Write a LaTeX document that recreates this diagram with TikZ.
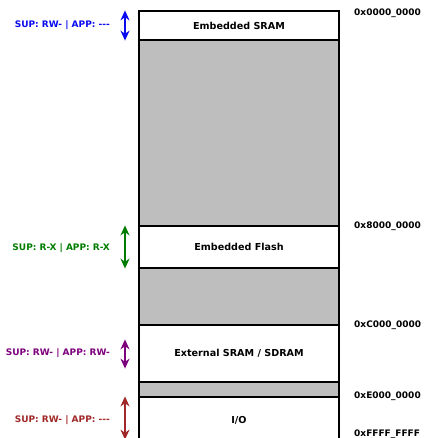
\documentclass[tikz,border=0pt]{standalone}
\usepackage{fontspec}
\setmainfont{DejaVu Sans}
\usetikzlibrary{arrows.meta, positioning, calc}

\definecolor{gapgray}{RGB}{190,190,190}
\definecolor{supblue}{RGB}{10,10,240}
\definecolor{supgreen}{RGB}{0,125,0}
\definecolor{suppurple}{RGB}{125,0,125}
\definecolor{supred}{RGB}{160,40,40}
\newcommand{\noperm}{-\kern0pt-\kern0pt-}

\tikzset{
  region/.style={draw, line width=1.2pt, minimum width=200pt, inner sep=0pt,
                 font=\bfseries\fontsize{9.6}{11}\selectfont},
  hole/.style={region, fill=gapgray},
  perm/.style={{Stealth[length=10pt,width=9pt]}-{Stealth[length=10pt,width=9pt]}, line width=1.3pt},
  permlabel/.style={anchor=east, inner sep=0pt, font=\bfseries\fontsize{9}{10}\selectfont},
  addr/.style={anchor=west, inner sep=0pt, font=\bfseries\fontsize{9}{10}\selectfont}
}

\begin{document}
\begin{tikzpicture}[x=1pt, y=-1pt]
  \useasboundingbox (0,0) rectangle (423,438);
  \clip (0,0) rectangle (423,438);

  % Memory map
  \foreach \n/\t/\b/\txt in {sram/11/40/{Embedded SRAM},
      flash/226/268/{Embedded Flash},
      ext/325/382/{External SRAM / SDRAM}, io/397/443/{I/O}} {
    \node[region, minimum height={(\b-\t)*1pt}] (\n) at (239, {(\t+\b)/2}) {\txt};
  }
  % Unused ranges
  \foreach \n/\t/\b in {gapA/40/226, gapB/268/325, gapC/382/397}
    \node[hole, minimum height={(\b-\t)*1pt}] (\n) at (239, {(\t+\b)/2}) {};

  % Addresses
  \node[addr] (a0) at (354, 13) {0x0000\_0000};
  \node[addr] (a8) at (354, 226) {0x8000\_0000};
  \node[addr] (ac) at (354, 325) {0xC000\_0000};
  \node[addr] (ae) at (354, 396) {0xE000\_0000};
  \node[addr] (af) at (354, 434) {0xFFFF\_FFFF};

  % Access rights
  \coordinate (ax) at (125, 0);
  \draw[perm, supblue] (ax |- sram.north) -- (ax |- sram.south);
  \draw[perm, supgreen] (ax |- flash.north) -- (ax |- flash.south);
  \draw[perm, suppurple] ([yshift=-15pt]ax |- ext.north) -- ([yshift=14pt]ax |- ext.south);
  \draw[perm, supred] (ax |- io.north) -- ([yshift=4pt]ax |- io.south);

  \node[permlabel, supblue] (psram) at (110, 25) {SUP: RW- | APP: \noperm};
  \node[permlabel, supgreen] (pflash) at (110, 248) {SUP: R-X | APP: R-X};
  \node[permlabel, suppurple] (pext) at (110, 353) {SUP: RW- | APP: RW-};
  \node[permlabel, supred] (pio) at (110, 420) {SUP: RW- | APP: \noperm};
\end{tikzpicture}
\end{document}
